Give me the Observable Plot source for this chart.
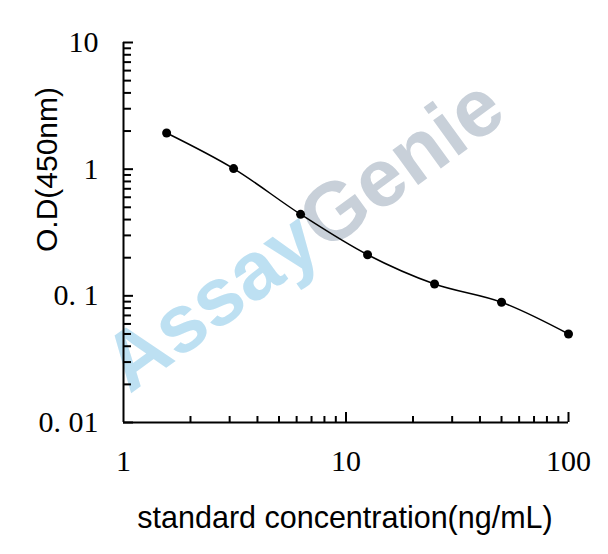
<!DOCTYPE html>
<html><head><meta charset="utf-8">
<script src="https://cdn.jsdelivr.net/npm/d3@7"></script>
<script src="https://cdn.jsdelivr.net/npm/@observablehq/plot@0.6"></script>
<style>body{margin:0;background:#fff}</style>
</head><body><div id="chart"></div>
<script>
const concentrations = [1.5625, 3.125, 6.25, 12.5, 25, 50, 100];
const odValues = [1.93, 1.01, 0.44, 0.211, 0.124, 0.089, 0.050];
const xLabelTicks = [1, 10, 100];
const xMajorTicks = [10, 100];
const xMinorTicks = [2, 3, 4, 5, 6, 7, 8, 9, 20, 30, 40, 50, 60, 70, 80, 90];
const yLabelTicks = [0.01, 0.1, 1, 10];
const yMinorTicks = [0.02, 0.03, 0.04, 0.05, 0.06, 0.07, 0.08, 0.09,
                     0.2, 0.3, 0.4, 0.5, 0.6, 0.7, 0.8, 0.9,
                     2, 3, 4, 5, 6, 7, 8, 9];
const xTitle = ["standard concentration(ng/mL)"];
const yTitle = ["O.D(450nm)"];
const watermarkLeft = ["Assay"];
const watermarkRight = ["Genie"];

const data = concentrations.map((c, i) => ({c, od: odValues[i]}));
const yFmt = d => d < 1 ? String(d).replace(".", ". ") : String(d);

const wm = {frameAnchor: "middle", rotate: -36, dx: -21, dy: 20, fontSize: 82,
  fontWeight: "bold", fontFamily: "Liberation Sans", lineAnchor: "bottom"};

const chart = Plot.plot({
  width: 608, height: 554,
  marginLeft: 123, marginRight: 40, marginTop: 42, marginBottom: 132,
  style: {background: "#fff", color: "#000"},
  x: {type: "log", domain: [1, 100]},
  y: {type: "log", domain: [0.01, 10]},
  marks: [
    Plot.text(watermarkLeft, {...wm, text: d => d, textAnchor: "end", fill: "#bde0f2"}),
    Plot.text(watermarkRight, {...wm, text: d => d, textAnchor: "start", fill: "#c8d0d9"}),
    // labels
    Plot.axisX({ticks: xLabelTicks, tickSize: 0, tickPadding: 27, tickFormat: d => String(d),
      fontFamily: "Liberation Serif", fontSize: 30, label: null}),
    Plot.axisY({ticks: yLabelTicks, tickSize: 0, tickPadding: 25, tickFormat: yFmt,
      fontFamily: "Liberation Serif", fontSize: 30, label: null}),
    // inward ticks
    Plot.axisX({ticks: xMajorTicks, tickSize: -10, strokeWidth: 2, tickFormat: () => "", label: null}),
    Plot.axisX({ticks: xMinorTicks, tickSize: -6, strokeWidth: 2, tickFormat: () => "", label: null}),
    Plot.axisY({ticks: yLabelTicks, tickSize: -10, strokeWidth: 2, tickFormat: () => "", label: null}),
    Plot.axisY({ticks: yMinorTicks, tickSize: -8, strokeWidth: 2, tickFormat: () => "", label: null}),
    Plot.ruleX([1], {strokeWidth: 2}),
    Plot.ruleY([0.01], {strokeWidth: 2}),
    Plot.line(data, {x: "c", y: "od", curve: "catmull-rom", stroke: "#000", strokeWidth: 1.5}),
    Plot.dot(data, {x: "c", y: "od", r: 4.5, fill: "#000", stroke: "none"}),
    Plot.text(xTitle, {text: d => d, frameAnchor: "bottom", dy: 105, dx: -1, lineAnchor: "bottom",
      textAnchor: "middle", fontFamily: "Liberation Sans", fontSize: 30.5, fill: "#000"}),
    Plot.text(yTitle, {text: d => d, frameAnchor: "left", dx: -67, dy: -63, rotate: -90, lineAnchor: "bottom",
      textAnchor: "middle", fontFamily: "Liberation Sans", fontSize: 30, fill: "#000"})
  ]
});
document.getElementById("chart").appendChild(chart);
</script>
</body></html>
